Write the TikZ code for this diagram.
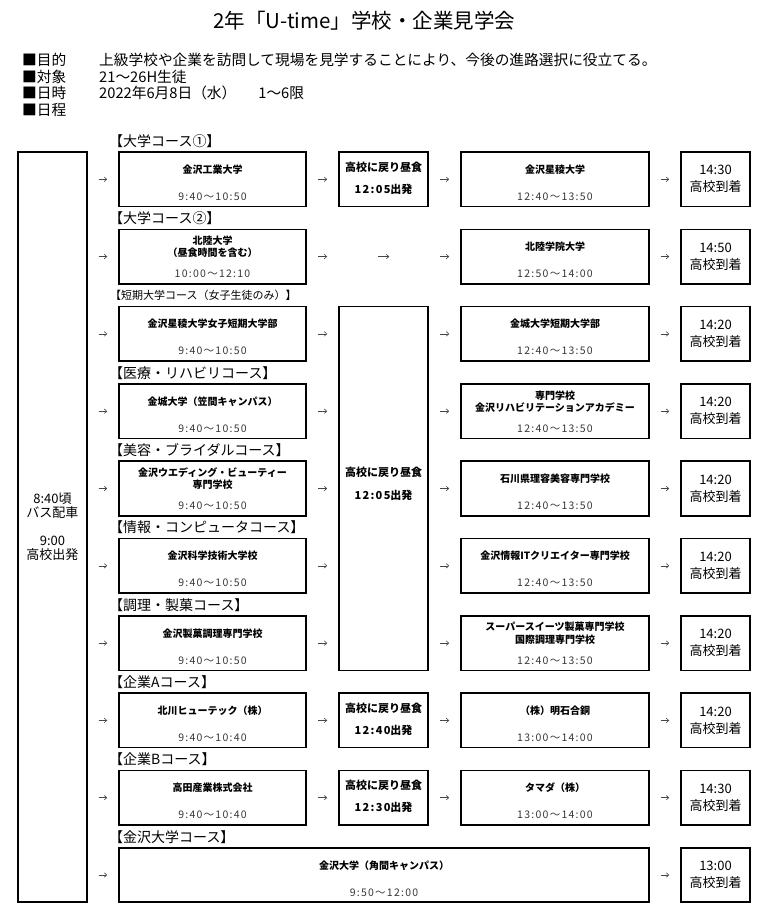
\documentclass[tikz,border=0pt]{standalone}
\usepackage{fontspec}
\setmainfont{Noto Sans CJK JP}
\newfontfamily\digitsp[LetterSpace=12]{Noto Sans CJK JP}
\usetikzlibrary{arrows.meta, positioning}
\definecolor{timegray}{RGB}{55, 55, 55}
\definecolor{arrowgray}{RGB}{70, 70, 70}

% visit box: node name, x, y, width, school, time
\newcommand{\visit}[6]{%
  \node[vbox, minimum width=#4pt] (#1) at (#2,#3) {};
  \node[nm] (#1n) at ([yshift=9.75pt]#1.center) {#5};
  \node[tm] (#1h) at ([yshift=-17.25pt]#1.center) {#6};
}
% lunch box: node name, x, y, departure
\newcommand{\lunch}[4]{%
  \node[lbox] (#1) at (#2,#3) {};
  \node[ln] (#1n) at ([yshift=12.25pt]#1.center) {高校に戻り昼食};
  \node[ln] (#1h) at ([yshift=-9.75pt]#1.center) {{\digitsp #4}出発};
}

\begin{document}
\begin{tikzpicture}[x=1pt, y=-1pt,
  box/.style={draw, line width=1.6pt, minimum height=54.5pt, inner sep=0pt},
  vbox/.style={box},
  lbox/.style={box, minimum width=89pt},
  abox/.style={box, minimum width=69pt, align=center, font=\fontsize{13}{17}\selectfont},
  nm/.style={inner sep=0pt, align=center, font=\fontsize{10}{12.5}\selectfont\bfseries},
  ln/.style={inner sep=0pt, font=\fontsize{11}{12}\selectfont\bfseries},
  tm/.style={inner sep=0pt, font=\fontsize{10.5}{12}\selectfont\digitsp, text=timegray},
  crs/.style={anchor=west, inner sep=0pt, font=\fontsize{14}{16}\selectfont},
  hd/.style={anchor=west, inner sep=0pt, font=\fontsize{14.7}{16}\selectfont},
  arr/.style={-{Straight Barb[length=2.5pt,width=4.5pt]}, line width=0.6pt, arrowgray, shorten <=11pt, shorten >=11pt}
]
  \fill[white] (0,0) rectangle (768,914);
  \useasboundingbox (0,0) rectangle (768,914);

  % Header
  \node[inner sep=0pt, font=\fontsize{20.5}{22}\selectfont] (title) at (364.5,21) {2年「U-time」学校・企業見学会};
  \node[hd] (aim) at (22,60) {■目的};
  \node[hd] (aimt) at (99,60) {上級学校や企業を訪問して現場を見学することにより、今後の進路選択に役立てる。};
  \node[hd] (who) at (22,76.5) {■対象};
  \node[hd] (whot) at (99,76.5) {21～26H生徒};
  \node[hd] (when) at (22,93) {■日時};
  \node[hd] (whent) at (99,93) {2022年6月8日（水）\hspace{22pt}1～6限};
  \node[hd] (plan) at (22,109.5) {■日程};

  % Departure
  \node[box, minimum width=69pt, minimum height=750pt, align=center, font=\fontsize{13}{13.5}\selectfont] (depart) at (52.5,527) {8:40頃\\バス配車\\[15pt]9:00\\高校出発};

  % Course labels
  \node[crs] (c1) at (109,141.0) {【大学コース①】};
  \node[crs] (c2) at (109,218.3) {【大学コース②】};
  \node[crs, font=\fontsize{11}{12}\selectfont] (c3) at (110,295.6) {【短期大学コース（女子生徒のみ）】};
  \node[crs] (c4) at (109,372.9) {【医療・リハビリコース】};
  \node[crs] (c5) at (109,450.2) {【美容・ブライダルコース】};
  \node[crs] (c6) at (109,527.5) {【情報・コンピュータコース】};
  \node[crs] (c7) at (109,604.8) {【調理・製菓コース】};
  \node[crs] (c8) at (109,682.1) {【企業Aコース】};
  \node[crs] (c9) at (109,759.4) {【企業Bコース】};
  \node[crs] (c10) at (109,836.7) {【金沢大学コース】};

  % Morning visits
  \visit{r1a}{212.5}{179.3}{187}{金沢工業大学}{9:40～10:50}
  \visit{r2a}{212.5}{256.6}{187}{北陸大学\\（昼食時間を含む）}{10:00～12:10}
  \visit{r3a}{212.5}{333.9}{187}{金沢星稜大学女子短期大学部}{9:40～10:50}
  \visit{r4a}{212.5}{411.2}{187}{金城大学（笠間キャンパス）}{9:40～10:50}
  \visit{r5a}{212.5}{488.5}{187}{金沢ウエディング・ビューティー\\専門学校}{9:40～10:50}
  \visit{r6a}{212.5}{565.8}{187}{金沢科学技術大学校}{9:40～10:50}
  \visit{r7a}{212.5}{643.1}{187}{金沢製菓調理専門学校}{9:40～10:50}
  \visit{r8a}{212.5}{720.4}{187}{北川ヒューテック（株）}{9:40～10:40}
  \visit{r9a}{212.5}{797.7}{187}{高田産業株式会社}{9:40～10:40}
  \visit{r10a}{384}{875.0}{530}{金沢大学（角間キャンパス）}{9:50～12:00}

  % Lunch
  \lunch{r1c}{383.5}{179.3}{12:05}
  \node[lbox, draw=none] (r2c) at (383.5,256.6) {};
  \node[box, minimum width=89pt, minimum height=363.8pt] (lunchbig) at (383.5,488.5) {};
  \node[ln, align=center, font=\fontsize{11}{23}\selectfont\bfseries] (lunchbign) at ([yshift=5pt]lunchbig.center) {高校に戻り昼食\\{\digitsp 12:05}出発};
  \lunch{r8c}{383.5}{720.4}{12:40}
  \lunch{r9c}{383.5}{797.7}{12:30}

  % Afternoon visits
  \visit{r1b}{555}{179.3}{188}{金沢星稜大学}{12:40～13:50}
  \visit{r2b}{555}{256.6}{188}{北陸学院大学}{12:50～14:00}
  \visit{r3b}{555}{333.9}{188}{金城大学短期大学部}{12:40～13:50}
  \visit{r4b}{555}{411.2}{188}{専門学校\\金沢リハビリテーションアカデミー}{12:40～13:50}
  \visit{r5b}{555}{488.5}{188}{石川県理容美容専門学校}{12:40～13:50}
  \visit{r6b}{555}{565.8}{188}{金沢情報ITクリエイター専門学校}{12:40～13:50}
  \visit{r7b}{555}{643.1}{188}{スーパースイーツ製菓専門学校\\国際調理専門学校}{12:40～13:50}
  \visit{r8b}{555}{720.4}{188}{（株）明石合銅}{13:00～14:00}
  \visit{r9b}{555}{797.7}{188}{タマダ（株）}{13:00～14:00}

  % Arrival
  \node[abox] (r1d) at (715.5,179.3) {14:30\\高校到着};
  \node[abox] (r2d) at (715.5,256.6) {14:50\\高校到着};
  \node[abox] (r3d) at (715.5,333.9) {14:20\\高校到着};
  \node[abox] (r4d) at (715.5,411.2) {14:20\\高校到着};
  \node[abox] (r5d) at (715.5,488.5) {14:20\\高校到着};
  \node[abox] (r6d) at (715.5,565.8) {14:20\\高校到着};
  \node[abox] (r7d) at (715.5,643.1) {14:20\\高校到着};
  \node[abox] (r8d) at (715.5,720.4) {14:20\\高校到着};
  \node[abox] (r9d) at (715.5,797.7) {14:30\\高校到着};
  \node[abox] (r10d) at (715.5,875.0) {13:00\\高校到着};

  % Arrows
  \draw[arr] (depart.east |- r1a) -- (r1a);
  \draw[arr] (depart.east |- r2a) -- (r2a);
  \draw[arr] (depart.east |- r3a) -- (r3a);
  \draw[arr] (depart.east |- r4a) -- (r4a);
  \draw[arr] (depart.east |- r5a) -- (r5a);
  \draw[arr] (depart.east |- r6a) -- (r6a);
  \draw[arr] (depart.east |- r7a) -- (r7a);
  \draw[arr] (depart.east |- r8a) -- (r8a);
  \draw[arr] (depart.east |- r9a) -- (r9a);
  \draw[arr] (depart.east |- r10a) -- (r10a);

  \draw[arr] (r1a) -- (r1c);
  \draw[arr] (r1c) -- (r1b);
  \draw[arr] (r2a) -- (r2c);
  \draw[arr, shorten <=39.5pt, shorten >=39.5pt] (r2c.west) -- (r2c.east);
  \draw[arr] (r2c) -- (r2b);
  \draw[arr] (r3a) -- (r3a -| lunchbig.west);
  \draw[arr] (r4a) -- (r4a -| lunchbig.west);
  \draw[arr] (r5a) -- (r5a -| lunchbig.west);
  \draw[arr] (r6a) -- (r6a -| lunchbig.west);
  \draw[arr] (r7a) -- (r7a -| lunchbig.west);
  \draw[arr] (r3b -| lunchbig.east) -- (r3b);
  \draw[arr] (r4b -| lunchbig.east) -- (r4b);
  \draw[arr] (r5b -| lunchbig.east) -- (r5b);
  \draw[arr] (r6b -| lunchbig.east) -- (r6b);
  \draw[arr] (r7b -| lunchbig.east) -- (r7b);
  \draw[arr] (r8a) -- (r8c);
  \draw[arr] (r8c) -- (r8b);
  \draw[arr] (r9a) -- (r9c);
  \draw[arr] (r9c) -- (r9b);

  \draw[arr] (r1b) -- (r1d);
  \draw[arr] (r2b) -- (r2d);
  \draw[arr] (r3b) -- (r3d);
  \draw[arr] (r4b) -- (r4d);
  \draw[arr] (r5b) -- (r5d);
  \draw[arr] (r6b) -- (r6d);
  \draw[arr] (r7b) -- (r7d);
  \draw[arr] (r8b) -- (r8d);
  \draw[arr] (r9b) -- (r9d);
  \draw[arr] (r10a) -- (r10d);
\end{tikzpicture}
\end{document}
